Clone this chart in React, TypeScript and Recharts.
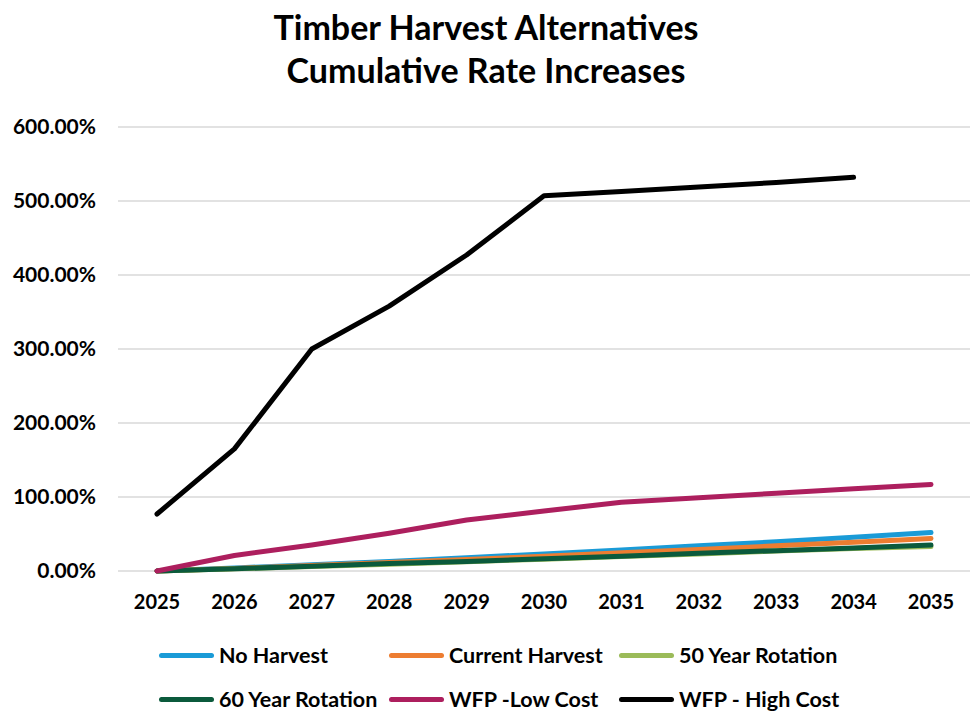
import { CartesianGrid, Legend, Line, LineChart, XAxis, YAxis } from "recharts";

const years = ["2025", "2026", "2027", "2028", "2029", "2030", "2031", "2032", "2033", "2034", "2035"];

// cumulative increase in percent
const noHarvest      = [0, 4, 8.5, 13, 18, 23, 28.5, 34, 39.5, 45.5, 52];
const currentHarvest = [0, 3.5, 7.5, 11.5, 15.5, 20, 24.5, 29, 34, 39, 44];
const rotation50     = [0, 3, 6, 9, 12.5, 16, 19.5, 23, 27, 30.5, 33];
const rotation60     = [0, 3, 6.5, 10, 13, 16.5, 20, 24, 27.5, 31, 35];
const wfpLow         = [0, 21, 35, 51, 69, 81, 93, 99, 105, 111, 117];
const wfpHigh        = [77, 165, 300, 358, 427, 507, 513, 519, 525, 532, null];

const yTicks = [0, 100, 200, 300, 400, 500, 600];

const series = [
  { key: "noHarvest",      name: "No Harvest",        color: "#1a9bd7", values: noHarvest },
  { key: "currentHarvest", name: "Current Harvest",   color: "#ed7d31", values: currentHarvest },
  { key: "rotation50",     name: "50 Year Rotation",  color: "#9bbb59", values: rotation50 },
  { key: "rotation60",     name: "60 Year Rotation",  color: "#0b5a3c", values: rotation60 },
  { key: "wfpLow",         name: "WFP -Low Cost",     color: "#ad1f5e", values: wfpLow },
  { key: "wfpHigh",        name: "WFP - High Cost",   color: "#000000", values: wfpHigh },
];

const chartData = years.map((year, i) => {
  const row: Record<string, string | number | null> = { year };
  series.forEach((s) => { row[s.key] = s.values[i]; });
  return row;
});

const FONT = "Lato, 'Open Sans', sans-serif";

function ExcelLegend() {
  return (
    <div style={{ height: 100, width: 972, position: "relative", fontFamily: FONT, fontWeight: 700, fontSize: 21.5, color: "#000" }}>
      {series.map((s, i) => {
        const col = i % 3;
        const row = Math.floor(i / 3);
        return (
          <div
            key={s.key}
            style={{
              position: "absolute",
              left: 159 + col * 230,
              top: 44 + row * 44 - 13,
              height: 26,
              display: "flex",
              alignItems: "center",
              whiteSpace: "nowrap",
            }}
          >
            <span style={{ display: "inline-block", width: 55, height: 5, borderRadius: 3, background: s.color, marginRight: 5 }} />
            <span>{s.name}</span>
          </div>
        );
      })}
    </div>
  );
}

export default function App() {
  return (
    <div style={{ position: "absolute", left: 0, top: 0, width: 972, height: 711, background: "#fff" }}>
      <div
        style={{
          position: "absolute",
          top: 5,
          left: 0,
          width: 972,
          textAlign: "center",
          fontFamily: FONT,
          fontWeight: 700,
          fontSize: 34,
          lineHeight: "43px",
          color: "#000",
        }}
      >
        Timber Harvest Alternatives
        <br />
        Cumulative Rate Increases
      </div>
      <LineChart width={972} height={711} data={chartData} margin={{ top: 127, right: 2, left: 0, bottom: 0 }}>
        <CartesianGrid vertical={false} stroke="#d9d9d9" strokeWidth={1.5} />
        <XAxis
          dataKey="year"
          height={40}
          axisLine={false}
          tickLine={false}
          tickSize={0}
          tickMargin={24}
          padding={{ left: 39, right: 39 }}
          tick={{ fontSize: 20, fontWeight: 700, fill: "#000", fontFamily: FONT }}
        />
        <YAxis
          width={118}
          domain={[0, 600]}
          ticks={yTicks}
          axisLine={false}
          tickLine={false}
          tickSize={0}
          tickMargin={22}
          tickFormatter={(v: number) => `${v.toFixed(2)}%`}
          tick={{ fontSize: 21, fontWeight: 700, fill: "#000", fontFamily: FONT }}
        />
        <Legend verticalAlign="bottom" wrapperStyle={{ left: 0, width: 972 }} content={() => <ExcelLegend />} />
        {series.map((s) => (
          <Line
            key={s.key}
            type="linear"
            dataKey={s.key}
            name={s.name}
            stroke={s.color}
            strokeWidth={5}
            strokeLinecap="round"
            strokeLinejoin="round"
            dot={false}
            activeDot={false}
            isAnimationActive={false}
          />
        ))}
      </LineChart>
    </div>
  );
}
